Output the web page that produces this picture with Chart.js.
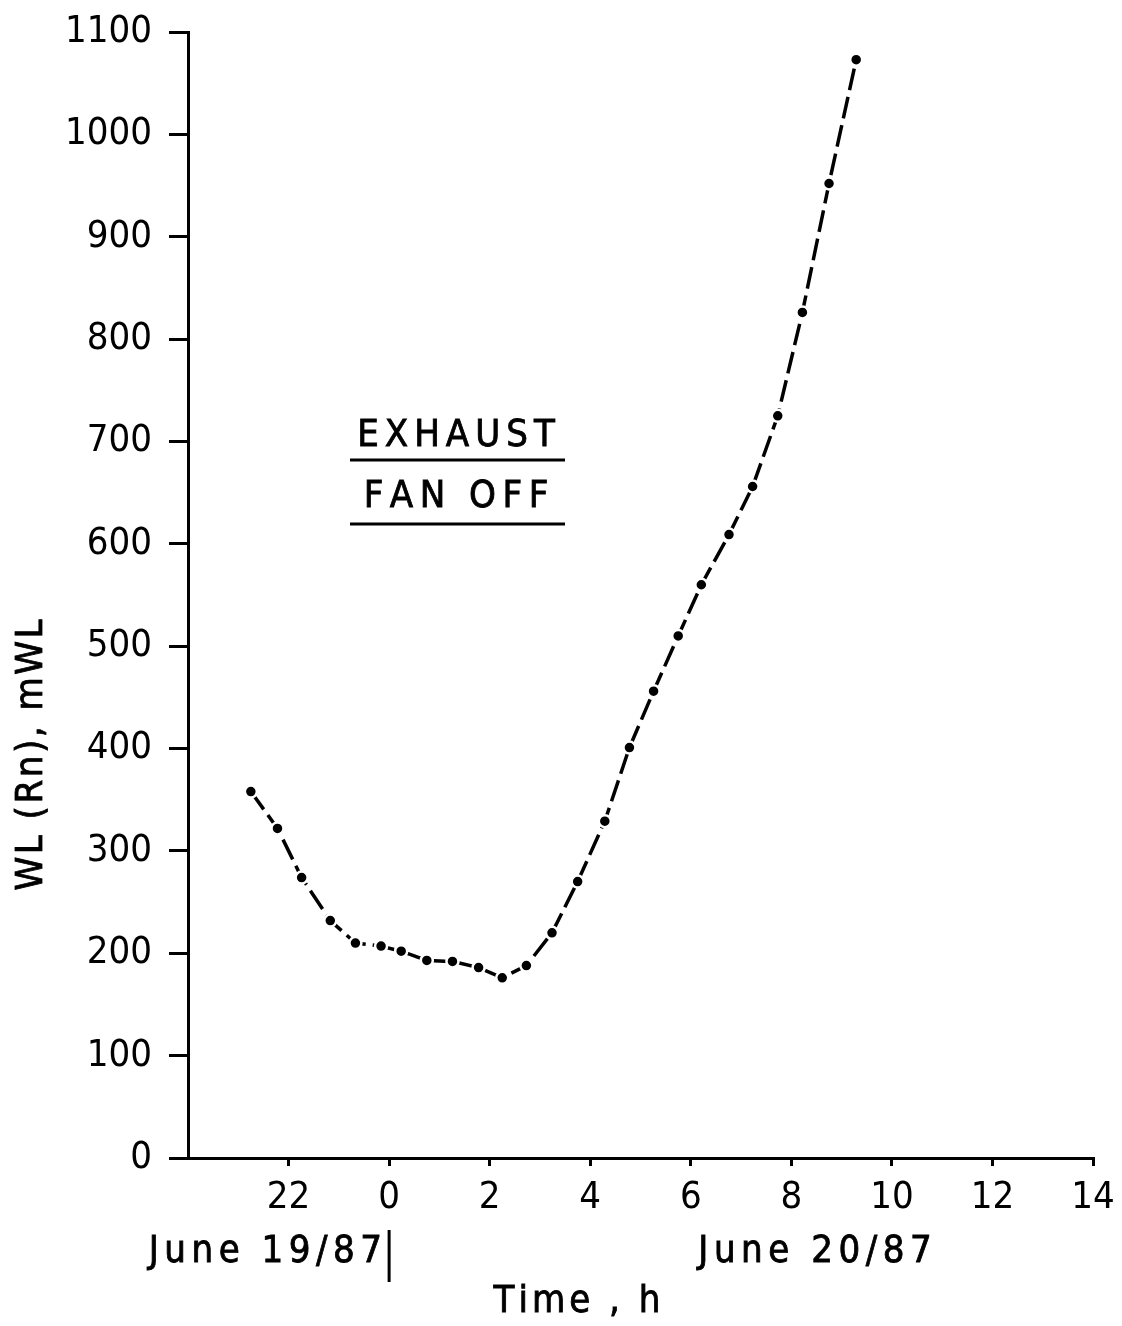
<!DOCTYPE html>
<html><head><meta charset="utf-8">
<script src="https://cdn.jsdelivr.net/npm/chart.js@4.4.1/dist/chart.umd.min.js"></script>
<style>html,body{margin:0;padding:0;background:#fff}#wrap{width:1122px;height:1326px;position:relative}canvas{display:block}</style>
</head><body><div id="wrap"><canvas id="c" width="1122" height="1326"></canvas></div>
<script>
// Time axis: hours relative to midnight June 19/20 1987 (negative = June 19)
const hours = [-2.75, -2.22, -1.74, -1.17, -0.67, -0.16, 0.24, 0.75, 1.26, 1.78, 2.25, 2.73, 3.24, 3.75, 4.29, 4.78, 5.26, 5.75, 6.21, 6.76, 7.23, 7.73, 8.22, 8.75, 9.29];
const wlValues = [358, 322, 274, 232, 210, 207, 202, 193, 192, 186, 176, 188, 220, 270, 329, 401, 456, 510, 560, 609, 656, 725, 826, 952, 1073];
const xTickValues = [-2, 0, 2, 4, 6, 8, 10, 12, 14];
const xTickLabels = ['22', '0', '2', '4', '6', '8', '10', '12', '14'];
const yTickValues = [0, 100, 200, 300, 400, 500, 600, 700, 800, 900, 1000, 1100];
const yTitle = 'WL (Rn), mWL';
const xTitle = 'Time , h';
const dateLabels = ['June 19/87', 'June 20/87'];
const noteLines = ['EXHAUST', 'FAN OFF'];

const FONT = "'DejaVu Sans Condensed', 'Liberation Sans Narrow', 'DejaVu Sans', sans-serif";

function spacedWidth(ctx, text, sp) {
  let w = 0;
  for (const ch of text) w += ctx.measureText(ch).width + sp;
  return w - sp;
}
function drawSpaced(ctx, text, x, y, sp, align) {
  const w = spacedWidth(ctx, text, sp);
  let cx = align === 'center' ? x - w / 2 : (align === 'right' ? x - w : x);
  ctx.textAlign = 'left';
  for (const ch of text) {
    ctx.fillText(ch, cx, y);
    ctx.strokeText(ch, cx, y);
    cx += ctx.measureText(ch).width + sp;
  }
  return w;
}

const extras = {
  id: 'extras',
  afterDraw(chart) {
    const ctx = chart.ctx;
    const xs = chart.scales.x;
    ctx.save();
    ctx.fillStyle = '#000';
    ctx.strokeStyle = '#000';
    ctx.textBaseline = 'middle';
    ctx.lineWidth = 0.8;
    ctx.font = '38px ' + FONT;
    // annotation
    drawSpaced(ctx, noteLines[0], 456, 436, 6, 'center');
    drawSpaced(ctx, noteLines[1], 456, 497, 6.5, 'center');
    ctx.lineWidth = 3;
    ctx.beginPath();
    ctx.moveTo(350, 460); ctx.lineTo(565, 460);
    ctx.moveTo(350, 524); ctx.lineTo(565, 524);
    ctx.stroke();
    // date labels
    const x0 = xs.getPixelForValue(0);
    ctx.lineWidth = 0.8;
    drawSpaced(ctx, dateLabels[0], x0 - 7, 1252, 5.5, 'right');
    drawSpaced(ctx, dateLabels[1], 815, 1252, 5.5, 'center');
    // x title
    drawSpaced(ctx, xTitle, 577, 1302, 4, 'center');
    // y title
    ctx.save();
    ctx.translate(32, 755);
    ctx.rotate(-Math.PI / 2);
    drawSpaced(ctx, yTitle, 0, 0, 2.5, 'center');
    ctx.restore();
    ctx.lineWidth = 3;
    ctx.beginPath();
    ctx.moveTo(x0, 1230); ctx.lineTo(x0, 1282);
    ctx.stroke();
    ctx.restore();
  }
};

new Chart(document.getElementById('c'), {
  type: 'scatter',
  data: {
    datasets: [{
      data: hours.map((h, i) => ({ x: h, y: wlValues[i] })),
      showLine: true,
      borderColor: '#000',
      borderWidth: 3.5,
      borderDash: [22, 7],
      backgroundColor: '#000',
      pointBackgroundColor: '#000',
      pointBorderColor: '#fff',
      pointBorderWidth: 2.5,
      pointRadius: 6,
      tension: 0
    }]
  },
  options: {
    responsive: false,
    animation: false,
    devicePixelRatio: 1,
    layout: { padding: { left: 0, right: 29, top: 32, bottom: 0 } },
    plugins: { legend: { display: false }, tooltip: { enabled: false } },
    scales: {
      x: {
        type: 'linear', min: -4, max: 14,
        afterBuildTicks(s) { s.ticks = xTickValues.map(v => ({ value: v })); },
        afterFit(s) { s.height = 168; s.paddingLeft = 0; s.paddingRight = 0; },
        border: { display: true, color: '#000', width: 3 },
        grid: { display: true, drawOnChartArea: false, drawTicks: true, tickLength: 8, color: '#000', lineWidth: 3 },
        ticks: {
          color: '#000', padding: 9, maxRotation: 0, autoSkip: false,
          font: { family: FONT, size: 38 },
          callback(v) { const i = xTickValues.indexOf(v); return i >= 0 ? xTickLabels[i] : ''; }
        }
      },
      y: {
        type: 'linear', min: 0, max: 1100,
        afterBuildTicks(s) { s.ticks = yTickValues.map(v => ({ value: v })); },
        afterFit(s) { s.width = 188; s.paddingTop = 0; s.paddingBottom = 0; },
        border: { display: true, color: '#000', width: 3 },
        grid: { display: true, drawOnChartArea: false, drawTicks: true, tickLength: 19, color: '#000', lineWidth: 3 },
        ticks: { color: '#000', padding: 17, autoSkip: false, font: { family: FONT, size: 38 }, callback(v) { return String(v); } }
      }
    }
  },
  plugins: [extras]
});
</script>
</body></html>
